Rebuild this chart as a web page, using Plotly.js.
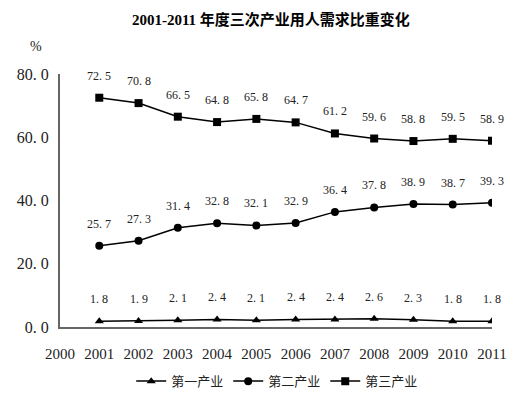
<!DOCTYPE html>
<html><head><meta charset="utf-8">
<script src="https://cdn.plot.ly/plotly-3.0.1.min.js"></script>
<style>html,body{margin:0;padding:0;background:#fff}</style>
</head><body>
<div id="chart" style="width:528px;height:395px"></div>
<script>
var years = [2001,2002,2003,2004,2005,2006,2007,2008,2009,2010,2011];
var primary = [1.8,1.9,2.1,2.4,2.1,2.4,2.4,2.6,2.3,1.8,1.8];
var secondary = [25.7,27.3,31.4,32.8,32.1,32.9,36.4,37.8,38.9,38.7,39.3];
var tertiary = [72.5,70.8,66.5,64.8,65.8,64.7,61.2,59.6,58.8,59.5,58.9];
var names = ['第一产业','第二产业','第三产业'];
var xTicks = [2000,2001,2002,2003,2004,2005,2006,2007,2008,2009,2010,2011];
var yTicks = [0,20,40,60,80];

var numFont = 'Liberation Serif, Noto Sans CJK SC, serif';
function fmt(v){ return v.toFixed(1).replace('.', '. '); }

function tr(y, name, sym){
  return {x: years, y: y, name: name, type:'scatter', mode:'lines+markers',
    line:{color:'#000', width:1.5}, marker:{symbol:sym, size:8, color:'#000'}};
}
var data = [tr(primary,names[0],'triangle-up'), tr(secondary,names[1],'circle'), tr(tertiary,names[2],'square')];

var ann = [];
[primary, secondary, tertiary].forEach(function(s){
  s.forEach(function(v,i){
    ann.push({x: years[i], y: v, text: fmt(v), showarrow:false, yshift:22,
      font:{family:numFont, size:12, color:'#222'}});
  });
});
ann.push({xref:'paper', yref:'paper', x:-0.055, xanchor:'center', y:1.107, yanchor:'middle', text:'%', showarrow:false,
  font:{family:numFont, size:14, color:'#222'}});

var layout = {
  width:528, height:395,
  margin:{l:60, r:36, t:74, b:68},
  paper_bgcolor:'#fff', plot_bgcolor:'#fff',
  title:{text:'<b>2001-2011 年度三次产业用人需求比重变化</b>', x:0.513, xanchor:'center', y:0.95, yanchor:'middle',
    font:{family:'Liberation Serif, Noto Sans CJK SC, serif', size:15, color:'#000'}},
  xaxis:{range:[2000,2011], tickvals:xTicks, ticktext:xTicks.map(String), showgrid:false, zeroline:false,
    showline:true, linecolor:'#666', linewidth:2, ticks:'', ticklen:0, ticklabelstandoff:12,
    tickfont:{family:numFont, size:15, color:'#222'}, automargin:false},
  yaxis:{range:[0,80], tickvals:yTicks, ticktext:yTicks.map(fmt), showgrid:false, zeroline:false,
    showline:true, linecolor:'#666', linewidth:2, ticks:'', ticklen:0, ticklabelstandoff:6,
    tickfont:{family:numFont, size:16, color:'#222'}, automargin:false},
  showlegend:true,
  legend:{orientation:'h', xref:'container', yref:'container', x:0.525, xanchor:'center', y:0.035, yanchor:'middle',
    font:{family:'Noto Sans CJK SC, sans-serif', size:13, color:'#222'}, itemwidth:30, tracegroupgap:0},
  annotations: ann
};
Plotly.newPlot('chart', data, layout, {displayModeBar:false, staticPlot:true});
</script>
</body></html>
